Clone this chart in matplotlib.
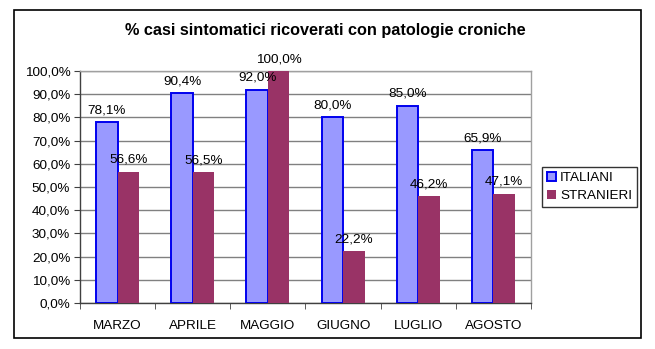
import numpy as np
import matplotlib.pyplot as plt
from matplotlib.patches import Rectangle
from matplotlib.ticker import FuncFormatter

plt.rcParams['font.family'] = ['Liberation Sans', 'DejaVu Sans']

mesi = ["MARZO", "APRILE", "MAGGIO", "GIUGNO", "LUGLIO", "AGOSTO"]
italiani = [78.1, 90.4, 92.0, 80.0, 85.0, 65.9]
stranieri = [56.6, 56.5, 100.0, 22.2, 46.2, 47.1]

def pct(v, pos=None):
    return ("%.1f%%" % v).replace(".", ",")

fig = plt.figure(figsize=(6.55, 3.49), dpi=100)
# cornice esterna del grafico
fig.patches.append(Rectangle((14/655, 11/349), 627/655, 328/349, transform=fig.transFigure,
                             fill=False, edgecolor="black", linewidth=1.2))

ax = fig.add_axes([80/655, 46/349, 451/655, 232/349])
x = np.arange(len(mesi))
w = 0.286
ax.bar(x - w/2, italiani, w, color="#9999FF", edgecolor="#0000EE", linewidth=1.4,
       label="ITALIANI", zorder=3)
ax.bar(x + w/2, stranieri, w, color="#993366", edgecolor="#993366", linewidth=0,
       label="STRANIERI", zorder=3)

for xi, v in zip(x - w/2, italiani):
    ax.annotate(pct(v), (xi, v), xytext=(0, 8.5), textcoords="offset points",
                ha="center", va="center", fontsize=9.7, zorder=4)
for xi, v in zip(x + w/2, stranieri):
    ax.annotate(pct(v), (xi, v), xytext=(0, 8.5), textcoords="offset points",
                ha="center", va="center", fontsize=9.7, zorder=4)

ax.set_xlim(-0.5, len(mesi) - 0.5)
ax.set_ylim(0, 100)
ax.set_yticks(np.arange(0, 101, 10))
ax.yaxis.set_major_formatter(FuncFormatter(pct))
ax.set_xticks(x)
ax.set_xticklabels(mesi)
ax.set_xticks(np.arange(-0.5, len(mesi), 1), minor=True)
ax.tick_params(axis="x", which="major", length=0, labelsize=9.7, pad=12)
ax.tick_params(axis="x", which="minor", length=4, color="#404040", direction="out")
ax.tick_params(axis="y", length=4, color="#404040", labelsize=9.7, pad=3)
ax.grid(axis="y", color="#808080", linewidth=1.0, zorder=0)

for s in ["top", "right"]:
    ax.spines[s].set_color("#a0a0a0")
    ax.spines[s].set_linewidth(1.0)
for s in ["left", "bottom"]:
    ax.spines[s].set_color("#404040")
    ax.spines[s].set_linewidth(1.0)

fig.text(0.497, 0.914, "% casi sintomatici ricoverati con patologie croniche",
         ha="center", va="center", fontsize=11.7, fontweight="bold")

leg = fig.legend(loc="upper left", bbox_to_anchor=(542/655, 1 - 167/349),
                 fontsize=9.7, frameon=True, fancybox=False, edgecolor="black",
                 handlelength=0.7, handleheight=0.7, handletextpad=0.3,
                 borderpad=0.35, labelspacing=0.4, borderaxespad=0)
leg.get_frame().set_linewidth(1.0)

fig.savefig("out.png", dpi=100)
